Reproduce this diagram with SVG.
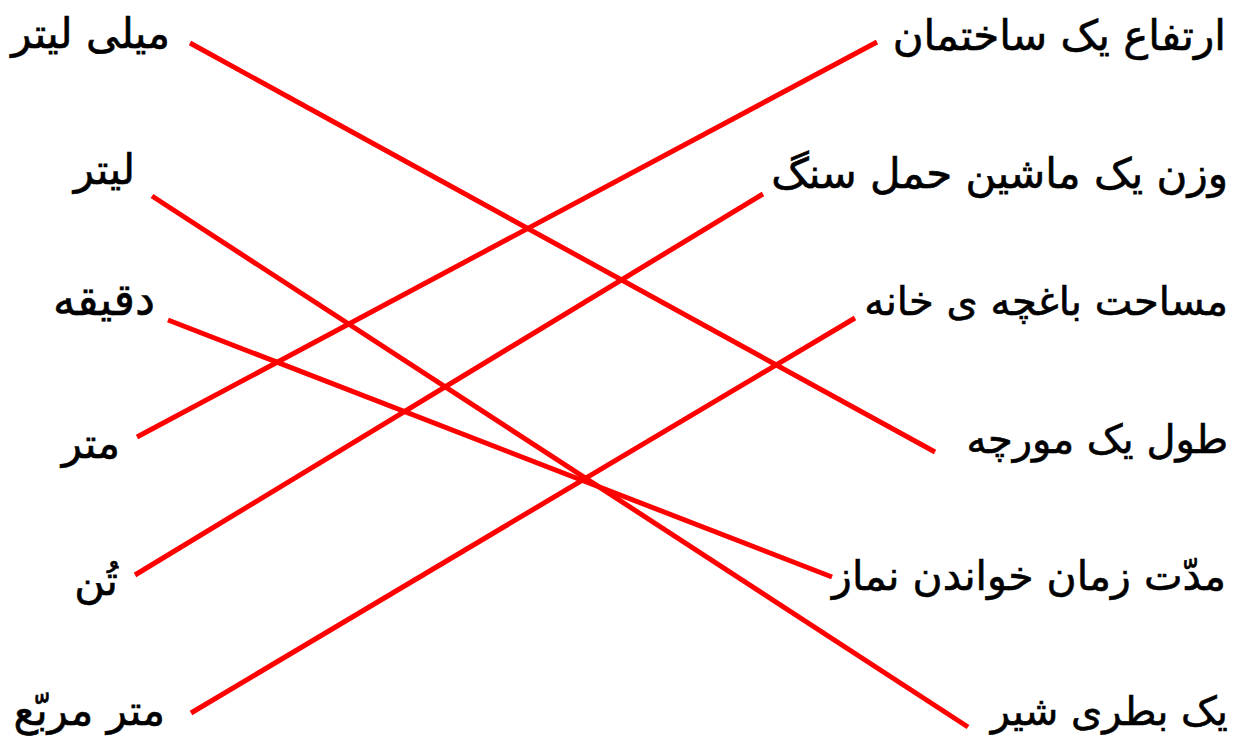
<svg xmlns="http://www.w3.org/2000/svg" width="1235" height="744" viewBox="0 0 1235 744">
<style>
.lbl{font-family:"DejaVu Sans","Noto Sans",sans-serif;font-size:42px;fill:#000;text-anchor:end;stroke:#000;stroke-width:0.6}
.ln{stroke:#f00;stroke-width:5;fill:none}
</style>
<rect width="1235" height="744" fill="#fff"/>
<g id="connectors">
<line class="ln" x1="190" y1="43" x2="935" y2="452"/>
<line class="ln" x1="152" y1="196" x2="968" y2="727"/>
<line class="ln" x1="168" y1="320" x2="832" y2="577"/>
<line class="ln" x1="137" y1="437" x2="877" y2="42"/>
<line class="ln" x1="135" y1="575" x2="763" y2="194"/>
<line class="ln" x1="191" y1="713" x2="855" y2="318"/>
</g>
<g id="l1"><text class="lbl" x="170" y="48">میلی لیتر</text></g>
<g id="l2"><text class="lbl" x="135" y="184">لیتر</text></g>
<g id="l3"><text class="lbl" x="155" y="315" style="font-size:45px">دقیقه</text></g>
<g id="l4"><text class="lbl" x="120" y="458">متر</text></g>
<g id="l5"><text class="lbl" x="118" y="595">تُن</text></g>
<g id="l6"><text class="lbl" x="165" y="725">متر مربّع</text></g>
<g id="r1"><text class="lbl" x="1226" y="50">ارتفاع یک ساختمان</text></g>
<g id="r2"><text class="lbl" x="1228" y="188">وزن یک ماشین حمل سنگ</text></g>
<g id="r3"><text class="lbl" x="1228" y="315" style="font-size:40px">مساحت باغچه ی خانه</text></g>
<g id="r4"><text class="lbl" x="1228" y="453" style="font-size:40px">طول یک مورچه</text></g>
<g id="r5"><text class="lbl" x="1226" y="590" style="font-size:41px">مدّت زمان خواندن نماز</text></g>
<g id="r6"><text class="lbl" x="1228" y="725" style="font-size:40px">یک بطری شیر</text></g>
</svg>
